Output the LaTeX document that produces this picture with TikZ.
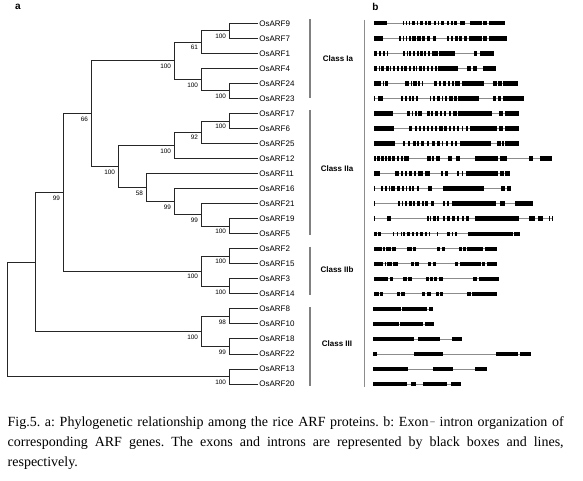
\documentclass[tikz,border=0pt]{standalone}
\usepackage{fontspec}
\setmainfont{Liberation Serif}
\setsansfont{Liberation Sans}
\newcommand\generow[4]{%
  \draw[intron] (#2,#1) -- (#3,#1);
  \foreach \a/\b in {#4} {\fill[exon] (\a,#1-2.2) rectangle (\b,#1+2.2);}%
}
\newcommand\bootlab[2]{\node[boot] (b#1) at ([shift={(-2.8,3)}]#1) {#2};}
\tikzset{
  branch/.style={draw=black!85, line width=0.9pt},
  leaf/.style={font=\sffamily\fontsize{8}{9}\selectfont, anchor=west, inner sep=1.2pt},
  boot/.style={font=\sffamily\fontsize{6.4}{7}\selectfont, anchor=north east, inner sep=0pt},
  classbar/.style={draw=black!50, line width=2.5pt},
  classlab/.style={font=\sffamily\bfseries\fontsize{8}{9}\selectfont},
  intron/.style={draw=black!45, line width=0.7pt},
  exon/.style={fill=black},
  panel/.style={font=\sffamily\bfseries\fontsize{10}{12}\selectfont},
  captext/.style={font=\fontsize{14}{16}\selectfont\frenchspacing, anchor=base west, inner sep=0pt},
}
\begin{document}
\begin{tikzpicture}[x=1pt,y=-1pt]
\useasboundingbox (0,0) rectangle (583,481);
\fill[white] (0,0) rectangle (583,481);

% panel labels
\node[panel] (pa) at (18,6.7) {a};
\node[panel] (pb) at (375.5,6.7) {b};

% leaves
\node[leaf] (L9)  at (258,23.3)   {OsARF9};
\node[leaf] (L7)  at (258,38.33)  {OsARF7};
\node[leaf] (L1)  at (258,53.36)  {OsARF1};
\node[leaf] (L4)  at (258,68.39)  {OsARF4};
\node[leaf] (L24) at (258,83.42)  {OsARF24};
\node[leaf] (L23) at (258,98.45)  {OsARF23};
\node[leaf] (L17) at (258,113.48) {OsARF17};
\node[leaf] (L6)  at (258,128.51) {OsARF6};
\node[leaf] (L25) at (258,143.54) {OsARF25};
\node[leaf] (L12) at (258,158.57) {OsARF12};
\node[leaf] (L11) at (258,173.6)  {OsARF11};
\node[leaf] (L16) at (258,188.63) {OsARF16};
\node[leaf] (L21) at (258,203.66) {OsARF21};
\node[leaf] (L19) at (258,218.69) {OsARF19};
\node[leaf] (L5)  at (258,233.72) {OsARF5};
\node[leaf] (L2)  at (258,248.75) {OsARF2};
\node[leaf] (L15) at (258,263.78) {OsARF15};
\node[leaf] (L3)  at (258,278.81) {OsARF3};
\node[leaf] (L14) at (258,293.84) {OsARF14};
\node[leaf] (L8)  at (258,308.87) {OsARF8};
\node[leaf] (L10) at (258,323.9)  {OsARF10};
\node[leaf] (L18) at (258,338.93) {OsARF18};
\node[leaf] (L22) at (258,353.96) {OsARF22};
\node[leaf] (L13) at (258,368.99) {OsARF13};
\node[leaf] (L20) at (258,384.02) {OsARF20};

% internal nodes
\coordinate (root)  at (7.3,319.2);
\coordinate (nA)    at (35,261.97);
\coordinate (nII)   at (63,192.51);
\coordinate (nI)    at (91,113.72);
\coordinate (nIa)   at (174,60.88);
\coordinate (n971)  at (201,42.09);
\coordinate (n97)   at (229,30.82);
\coordinate (n4)    at (201,79.67);
\coordinate (n2423) at (229,90.94);
\coordinate (nIIa)  at (118,166.56);
\coordinate (nIIa1) at (174,145.42);
\coordinate (n1762) at (201,132.27);
\coordinate (n176)  at (229,121.0);
\coordinate (n11)   at (146,187.69);
\coordinate (n16)   at (174,201.78);
\coordinate (n21)   at (201,214.93);
\coordinate (n195)  at (229,226.2);
\coordinate (nIIb)  at (201,271.3);
\coordinate (n215)  at (229,256.27);
\coordinate (n314)  at (229,286.33);
\coordinate (nIII)  at (201,331.42);
\coordinate (n810)  at (229,316.39);
\coordinate (n1822) at (229,346.45);
\coordinate (n1320) at (229,376.5);

% branches
\draw[branch] (root) |- (nA);   \draw[branch] (root) |- (n1320);
\draw[branch] (nA) |- (nII);    \draw[branch] (nA) |- (nIII);
\draw[branch] (nII) |- (nI);    \draw[branch] (nII) |- (nIIb);
\draw[branch] (nI) |- (nIa);    \draw[branch] (nI) |- (nIIa);
\draw[branch] (nIa) |- (n971);  \draw[branch] (nIa) |- (n4);
\draw[branch] (n971) |- (n97);  \draw[branch] (n971) |- (L1.west);
\draw[branch] (n97) |- (L9.west); \draw[branch] (n97) |- (L7.west);
\draw[branch] (n4) |- (L4.west); \draw[branch] (n4) |- (n2423);
\draw[branch] (n2423) |- (L24.west); \draw[branch] (n2423) |- (L23.west);
\draw[branch] (nIIa) |- (nIIa1); \draw[branch] (nIIa) |- (n11);
\draw[branch] (nIIa1) |- (n1762); \draw[branch] (nIIa1) |- (L12.west);
\draw[branch] (n1762) |- (n176); \draw[branch] (n1762) |- (L25.west);
\draw[branch] (n176) |- (L17.west); \draw[branch] (n176) |- (L6.west);
\draw[branch] (n11) |- (L11.west); \draw[branch] (n11) |- (n16);
\draw[branch] (n16) |- (L16.west); \draw[branch] (n16) |- (n21);
\draw[branch] (n21) |- (L21.west); \draw[branch] (n21) |- (n195);
\draw[branch] (n195) |- (L19.west); \draw[branch] (n195) |- (L5.west);
\draw[branch] (nIIb) |- (n215); \draw[branch] (nIIb) |- (n314);
\draw[branch] (n215) |- (L2.west); \draw[branch] (n215) |- (L15.west);
\draw[branch] (n314) |- (L3.west); \draw[branch] (n314) |- (L14.west);
\draw[branch] (nIII) |- (n810); \draw[branch] (nIII) |- (n1822);
\draw[branch] (n810) |- (L8.west); \draw[branch] (n810) |- (L10.west);
\draw[branch] (n1822) |- (L18.west); \draw[branch] (n1822) |- (L22.west);
\draw[branch] (n1320) |- (L13.west); \draw[branch] (n1320) |- (L20.west);

% bootstrap values
\bootlab{nII}{99}
\bootlab{nI}{66}
\bootlab{nIa}{100}
\bootlab{n971}{61}
\bootlab{n97}{100}
\bootlab{n4}{100}
\bootlab{n2423}{100}
\bootlab{nIIa}{100}
\bootlab{nIIa1}{100}
\bootlab{n1762}{92}
\bootlab{n176}{100}
\bootlab{n11}{58}
\bootlab{n16}{99}
\bootlab{n21}{99}
\bootlab{n195}{100}
\bootlab{nIIb}{100}
\bootlab{n215}{100}
\bootlab{n314}{100}
\bootlab{nIII}{100}
\bootlab{n810}{98}
\bootlab{n1822}{99}
\bootlab{n1320}{100}

% class bars
\draw[classbar] (310,19.3) -- (310,98.3);
\draw[classbar] (310,110) -- (310,235);
\draw[classbar] (310,246.7) -- (310,295);
\draw[classbar] (310,307.3) -- (310,386);
\node[classlab] (cIa)  at (338,58.5)  {Class Ia};
\node[classlab] (cIIa) at (337,169)   {Class IIa};
\node[classlab] (cIIb) at (337,270)   {Class IIb};
\node[classlab] (cIII) at (337,344)   {Class III};

% separator
\draw[draw=black!45, line width=1pt] (364,20.5) -- (364,387);

% gene structures
\begin{scope}[xshift=360pt, x=0.33333pt]
\generow{23.3}{42}{435}{42/82,128/132,137/141,146/150,155/166,170/174,180/190,196/200,205/214,222/228,233/238,244/252,262/268,272/278,282/292,300/314,330/365,370/380,388/435}
\generow{38.33}{42}{440}{42/68,118/123,128/131,138/141,148/152,157/168,172/182,186/196,200/210,218/228,262/268,274/280,285/294,298/305,312/320,326/365,370/380,386/440}
\generow{53.36}{42}{402}{42/52,57/64,69/76,81/85,128/136,140/144,148/154,160/166,170/176,181/188,192/198,203/210,215/235,238/285,342/352,360/402}
\generow{68.39}{42}{408}{42/52,56/60,64/72,78/86,90/94,98/106,110/118,124/128,132/140,146/152,158/164,168/172,178/186,190/196,200/208,212/218,224/230,234/295,322/332,338/352,370/408}
\generow{83.42}{42}{475}{42/64,68/72,76/85,135/148,152/155,160/170,175/181,186/190,222/232,238/244,248/258,264/270,275/282,286/300,305/372,398/410,415/425,430/475}
\generow{98.45}{42}{492}{42/45,55/68,122/130,135/142,147/152,157/162,168/175,210/214,218/226,232/240,245/250,255/262,268/278,283/290,295/358,398/408,414/424,430/492}
\generow{113.48}{42}{477}{42/98,142/150,155/160,165/170,175/185,200/210,214/220,225/235,240/245,252/258,268/272,280/290,295/395,418/430,435/477}
\generow{128.51}{42}{477}{42/102,148/155,165/170,178/182,188/195,200/208,212/218,226/230,238/248,252/262,268/272,280/284,290/296,305/310,318/325,330/412,416/430,435/477}
\generow{143.54}{42}{477}{42/105,130/136,145/150,160/167,172/177,182/192,200/206,215/225,232/240,245/250,258/265,272/280,286/292,300/392,412/422,426/432,436/477}
\generow{158.57}{42}{575}{42/48,52/60,64/72,76/80,84/92,97/104,110/118,122/128,132/148,202/212,216/222,227/240,265/275,288/300,345/415,420/440,508/518,540/575}
\generow{173.6}{42}{450}{42/60,105/118,124/130,135/142,148/155,162/168,175/188,195/210,242/250,256/265,290/298,305/310,318/415,420/432,436/450}
\generow{188.63}{42}{452}{42/45,62/70,75/82,86/90,94/104,112/120,125/132,138/142,146/152,156/162,170/178,205/215,248/372,422/435,440/452}
\generow{203.66}{42}{518}{42/45,115/120,125/130,135/142,147/155,158/165,172/180,186/192,196/203,212/222,248/256,260/268,275/408,420/435,465/518}
\generow{218.69}{42}{578}{42/45,80/92,200/206,210/214,220/228,232/236,248/256,262/270,276/284,290/298,305/312,318/326,345/478,508/525,535/550,568/571,575/578}
\generow{233.72}{42}{480}{42/50,54/62,98/102,110/114,122/126,130/134,140/150,155/162,168/175,180/190,195/200,206/210,230/235,262/270,275/280,284/290,325/460,462/480}
\generow{248.75}{42}{410}{42/65,70/74,78/92,96/108,142/155,158/168,232/240,245/255,298/305,310/318,322/370,375/410}
\generow{263.78}{42}{410}{42/70,74/78,82/95,100/115,152/162,166/178,205/212,218/228,285/295,300/362,366/376,380/410}
\generow{278.81}{42}{416}{42/85,90/98,128/140,145/155,198/206,211/218,223/232,238/250,340/352,356/416}
\generow{293.84}{42}{412}{42/56,60/70,110/120,124/135,185/195,200/212,228/236,240/248,322/332,336/412}
\generow{308.87}{38}{218}{38/122,125/200,208/218}
\generow{323.9}{38}{222}{38/117,120/188,195/222}
\generow{338.93}{38}{305}{38/162,175/240,275/305}
\generow{353.96}{38}{513}{38/50,163/248,408/475,480/513}
\generow{368.99}{38}{380}{38/145,218/278,345/380}
\generow{384.02}{38}{302}{38/140,152/168,190/262,272/302}
\end{scope}

% caption
\node[captext] (cap1) at (7.5,426.7) {\makebox[556pt][s]{Fig.5. a: Phylogenetic relationship among the rice ARF proteins. b: Exon\kern2pt\raisebox{2.5pt}{\fontsize{9}{9}\selectfont –} intron organization of}};
\node[captext] (cap2) at (7.5,446.7) {\makebox[556pt][s]{corresponding ARF genes. The exons and introns are represented by black boxes and lines,}};
\node[captext] (cap3) at (7.5,466.7) {respectively.};
\end{tikzpicture}
\end{document}
